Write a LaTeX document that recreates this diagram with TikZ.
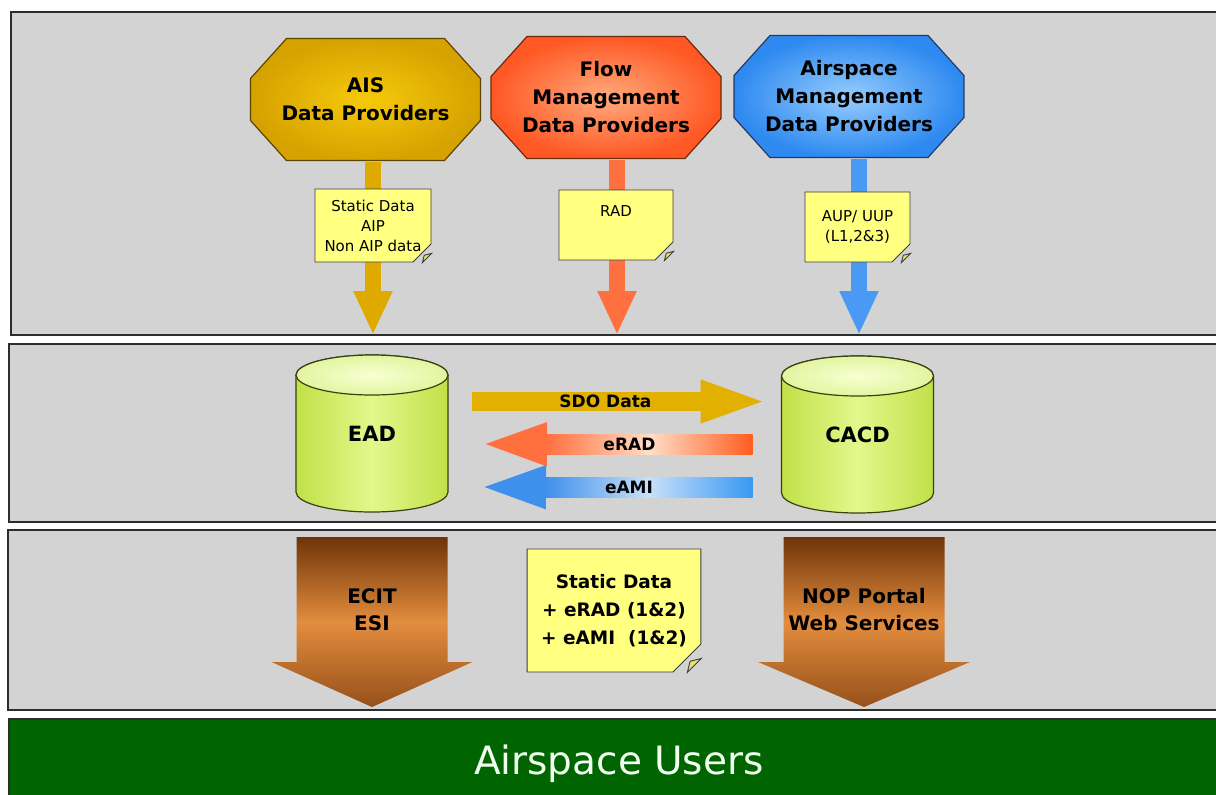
\documentclass[tikz,border=0pt]{standalone}
\usepackage{fontspec}
\setmainfont{DejaVu Sans}
\usetikzlibrary{shapes.misc,arrows.meta,calc,backgrounds}

\definecolor{panelgray}{RGB}{211,211,211}
\definecolor{panelline}{RGB}{45,45,45}
\definecolor{aisgold}{RGB}{214,162,0}
\definecolor{aislight}{RGB}{246,202,10}
\definecolor{aisedge}{RGB}{94,67,0}
\definecolor{flowred}{RGB}{255,88,36}
\definecolor{flowlight}{RGB}{255,170,125}
\definecolor{flowedge}{RGB}{110,42,8}
\definecolor{asmblue}{RGB}{46,138,240}
\definecolor{asmlight}{RGB}{150,204,255}
\definecolor{asmedge}{RGB}{34,58,102}
\definecolor{aisarrow}{RGB}{222,170,0}
\definecolor{flowarrow}{RGB}{255,112,64}
\definecolor{asmarrow}{RGB}{74,154,245}
\definecolor{sdogold}{RGB}{226,176,0}
\definecolor{eradorange}{RGB}{255,112,62}
\definecolor{eradpale}{RGB}{255,222,200}
\definecolor{eradend}{RGB}{255,92,32}
\definecolor{eamiblue}{RGB}{62,144,236}
\definecolor{eamipale}{RGB}{200,224,250}
\definecolor{eamiend}{RGB}{56,152,242}
\definecolor{noteyellow}{RGB}{255,255,128}
\definecolor{notefoldc}{RGB}{232,226,110}
\definecolor{noteline}{RGB}{60,60,60}
\definecolor{dbgreen}{RGB}{194,224,72}
\definecolor{dblight}{RGB}{226,248,140}
\definecolor{dbtopin}{RGB}{248,255,210}
\definecolor{dbtopout}{RGB}{226,245,160}
\definecolor{dbline}{RGB}{58,64,16}
\definecolor{browndark}{RGB}{110,52,8}
\definecolor{brownmid}{RGB}{227,141,62}
\definecolor{brownlow}{RGB}{150,80,26}
\definecolor{usersgreen}{RGB}{0,100,0}
\definecolor{userstext}{RGB}{240,255,240}

\tikzset{
    panel/.style = {fill=panelgray, draw=panelline, line width=1.6pt},
    provider/.style = {minimum width=230pt, minimum height=122pt, inner sep=0pt, outer sep=0pt, align=center, font=\bfseries\fontsize{20}{28}\selectfont},
    ais-shape/.style = {draw=aisedge, line width=1.2pt, inner color=aislight, outer color=aisgold},
    flow-shape/.style = {draw=flowedge, line width=1.2pt, inner color=flowlight, outer color=flowred},
    asm-shape/.style = {draw=asmedge, line width=1.2pt, inner color=asmlight, outer color=asmblue},
    sticky-note/.style = {chamfered rectangle, chamfered rectangle corners=south east, chamfered rectangle sep=9pt, fill=noteyellow, draw=noteline, line width=0.9pt, align=center, inner sep=0pt, font=\fontsize{15}{20}\selectfont},
    note-fold/.style = {fill=notefoldc, draw=noteline, line width=0.9pt},
    down-flow/.style = {line width=16pt, shorten <=1pt, -{Triangle[length=44pt, width=36pt]}},
    side-flow/.style = {line width=19pt, -{Triangle[length=68pt, width=38pt]}},
    erad-glow/.style = {left color=eradorange, right color=eradend, middle color=eradpale},
    eami-glow/.style = {left color=eamiblue, right color=eamiend, middle color=eamipale},
    flow-text/.style = {font=\bfseries\fontsize{17}{20}\selectfont, text=black},
    database/.style = {minimum width=152pt, minimum height=157pt, inner sep=0pt, outer sep=0pt, font=\bfseries\fontsize{21}{26}\selectfont},
    db-body/.style = {left color=dbgreen, right color=dbgreen, middle color=dblight, draw=dbline, line width=1.2pt},
    db-top/.style = {inner color=dbtopin, outer color=dbtopout, draw=dbline, line width=1.2pt},
    output-flow/.style = {top color=browndark, bottom color=brownlow, middle color=brownmid},
    output-text/.style = {align=center, font=\bfseries\fontsize{20}{27}\selectfont},
    users-bar/.style = {fill=usersgreen, draw=panelline, line width=1.6pt, text=userstext, font=\fontsize{39}{44}\selectfont, minimum width=1220pt, minimum height=90pt, anchor=north west},
}

\newcommand\providershape[2]{%
  \shade[#2] ($(#1.north west)+(36,0)$) -- ($(#1.north east)+(-36,0)$) -- ($(#1.north east)+(0,40)$)
    -- ($(#1.south east)+(0,-40)$) -- ($(#1.south east)+(-36,0)$) -- ($(#1.south west)+(36,0)$)
    -- ($(#1.south west)+(0,-40)$) -- ($(#1.north west)+(0,40)$) -- cycle;}
\newcommand\notefold[2]{%
  \path[note-fold] ($(#1.south -| #1.east)+(0,-#2)$) -- ($(#1.south -| #1.east)+(-#2,0)$) -- ($(#1.south -| #1.east)+(-0.8*#2,-0.8*#2)$) -- cycle;}
\newcommand\dbcylinder[1]{%
  \path[db-body] ($(#1.north west)+(0,20)$) -- ($(#1.south west)+(0,-20)$)
    arc[start angle=180, end angle=360, x radius=76pt, y radius=20pt]
    -- ($(#1.north east)+(0,20)$)
    arc[start angle=0, end angle=180, x radius=76pt, y radius=20pt] -- cycle;
  \path[db-top] ($(#1.north)+(0,20)$) ellipse [x radius=76pt, y radius=20pt];}
\newcommand\outputarrow[3]{%
  \shade[output-flow] ($(#1)+(-#2,-73)$) -- ($(#1)+(#2,-73)$) -- ($(#1)+(#2,52)$) -- ($(#1)+(#3,52)$)
    -- ($(#1)+(0,97)$) -- ($(#1)+(-#3,52)$) -- ($(#1)+(-#2,52)$) -- cycle;}

\begin{document}
\begin{tikzpicture}[x=1pt, y=-1pt]
\useasboundingbox (0,0) rectangle (1216,795);
\begin{scope}[on background layer]
\fill[white] (0,0) rectangle (1216,795);
\draw[panel] (11,12) rectangle (1230,335);
\draw[panel] (9,344) rectangle (1230,522);
\draw[panel] (8,530) rectangle (1230,710);
\end{scope}

\node[provider] (ais) at (365.5,99.5) {AIS\\Data Providers};
\node[provider] (flow) at (606,97.5) {Flow\\Management\\Data Providers};
\node[provider] (asm) at (849,96.5) {Airspace\\Management\\Data Providers};
\begin{scope}[on background layer]
\providershape{ais}{ais-shape}
\providershape{flow}{flow-shape}
\providershape{asm}{asm-shape}
\end{scope}

\coordinate (ais-drop) at (373,335);
\coordinate (flow-drop) at (617,335);
\coordinate (asm-drop) at (859,335);
\draw[down-flow, aisarrow] (ais.south -| ais-drop) -- (ais-drop);
\draw[down-flow, flowarrow] (flow.south -| flow-drop) -- (flow-drop);
\draw[down-flow, asmarrow] (asm.south -| asm-drop) -- (asm-drop);

\node[sticky-note, minimum width=116pt, minimum height=73pt] (ais-note) at (373,225.5) {Static Data\\AIP\\Non AIP data};
\node[sticky-note, minimum width=114pt, minimum height=70pt, text depth=27pt] (flow-note) at (616,225) {RAD};
\node[sticky-note, minimum width=105pt, minimum height=70pt] (asm-note) at (857.5,227) {AUP/ UUP\\(L1,2\&3)};
\notefold{ais-note}{9}
\notefold{flow-note}{9}
\notefold{asm-note}{9}

\node[database] (ead) at (372,433.5) {EAD};
\node[database] (cacd) at (857.5,434.5) {CACD};
\begin{scope}[on background layer]
\dbcylinder{ead}
\dbcylinder{cacd}
\end{scope}

\draw[side-flow, sdogold] ($(ead.east)+(24,-32)$) -- ($(cacd.west)+(-13,-33)$) node[flow-text, pos=0.45] (sdo) {SDO Data};

\coordinate (erad-tail) at ($(cacd.west)+(-29,10.5)$);
\coordinate (erad-tip) at ($(ead.east)+(31,10.5)$);
\draw[side-flow, eradorange] (erad-tail) -- (erad-tip) coordinate[pos=0.45] (erad-mid);
\shade[erad-glow] ($(erad-tip)+(67,-9.5)$) rectangle ($(erad-tail)+(0,9.5)$);
\node[flow-text] (erad) at (erad-mid) {eRAD};

\coordinate (eami-tail) at ($(cacd.west)+(-29,53.5)$);
\coordinate (eami-tip) at ($(ead.east)+(30,53.5)$);
\draw[side-flow, eamiblue] (eami-tail) -- (eami-tip) coordinate[pos=0.45] (eami-mid);
\shade[eami-glow] ($(eami-tip)+(67,-9.5)$) rectangle ($(eami-tail)+(0,9.5)$);
\node[flow-text] (eami) at (eami-mid) {eAMI};

\node[output-text] (ecit) at (372,610) {ECIT\\ESI};
\node[output-text] (nop) at (864,610) {NOP Portal\\Web Services};
\begin{scope}[on background layer]
\outputarrow{ecit}{75.5}{100.5}
\outputarrow{nop}{80.5}{106}
\end{scope}
\node[sticky-note, minimum width=166pt, minimum height=123pt, chamfered rectangle sep=14pt, font=\bfseries\fontsize{18.5}{28}\selectfont] (static-note) at (614,610.5) {Static Data\\+ eRAD (1\&2)\\+ eAMI\ \ (1\&2)};
\notefold{static-note}{14}

\node[users-bar] (users) at (8,718) {Airspace Users};
\end{tikzpicture}
\end{document}
